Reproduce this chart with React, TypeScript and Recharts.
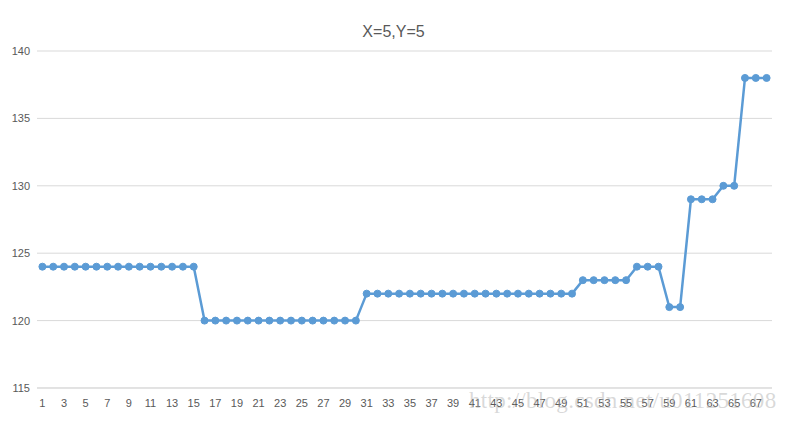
import { CartesianGrid, Line, LineChart, XAxis, YAxis } from 'recharts';

const categories = Array.from({ length: 68 }, (_, i) => String(i + 1));

const values = [
  124, 124, 124, 124, 124, 124, 124, 124, 124, 124, 124, 124, 124, 124, 124,
  120, 120, 120, 120, 120, 120, 120, 120, 120, 120, 120, 120, 120, 120, 120,
  122, 122, 122, 122, 122, 122, 122, 122, 122, 122, 122, 122, 122, 122, 122, 122, 122, 122, 122, 122,
  123, 123, 123, 123, 123,
  124, 124, 124,
  121, 121,
  129, 129, 129,
  130, 130,
  138, 138, 138,
];

const yTicks = [115, 120, 125, 130, 135, 140];

const data = categories.map((c, i) => ({ name: c, value: values[i] }));

const FONT = '"Liberation Sans", Arial, sans-serif';
const TEXT = '#595959';

export default function App() {
  return (
    <div
      style={{
        position: 'relative',
        width: 785,
        height: 420,
        border: '1px solid #d9d9d9',
        background: '#fff',
        margin: -8,
        fontFamily: FONT,
      }}
    >
      <div
        style={{
          position: 'absolute',
          top: 22,
          left: 0,
          width: '100%',
          textAlign: 'center',
          fontSize: 16,
          color: TEXT,
        }}
      >
        X=5,Y=5
      </div>
      <LineChart width={785} height={420} data={data} margin={{ top: 50, right: 14, bottom: 2, left: 0 }}>
        <CartesianGrid vertical={false} stroke="#d9d9d9" />
        <XAxis
          dataKey="name"
          interval={1}
          height={31}
          padding={{ left: 5.4, right: 5.4 }}
          tickLine={false}
          axisLine={{ stroke: '#d9d9d9' }}
          tick={{ fill: TEXT, fontSize: 11, fontFamily: FONT }}
          tickMargin={5}
        />
        <YAxis
          width={36}
          domain={[115, 140]}
          ticks={yTicks}
          axisLine={false}
          tickLine={false}
          tickSize={0}
          tickMargin={7}
          tick={{ fill: TEXT, fontSize: 11, fontFamily: FONT }}
        />
        <Line
          type="linear"
          dataKey="value"
          stroke="#5b9bd5"
          strokeWidth={2.5}
          dot={{ r: 3.5, fill: '#5b9bd5', stroke: '#5b9bd5', strokeWidth: 1 }}
          isAnimationActive={false}
        />
      </LineChart>
      <div
        style={{
          position: 'absolute',
          left: 468,
          top: 387,
          fontFamily: '"Liberation Serif", serif',
          fontSize: 23,
          letterSpacing: 0.3,
          color: 'rgba(170,170,170,0.45)',
          whiteSpace: 'nowrap',
        }}
      >
        http://blog.csdn.net/u011251608
      </div>
    </div>
  );
}
